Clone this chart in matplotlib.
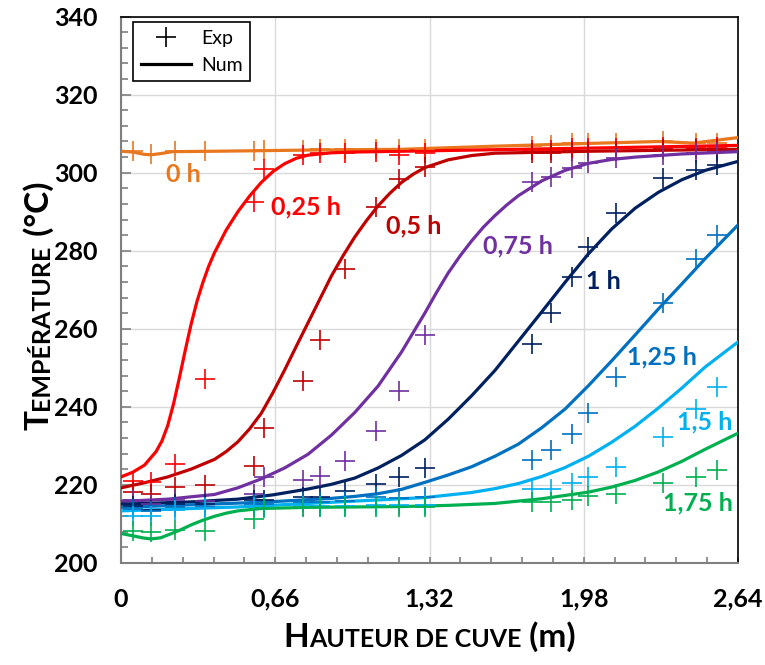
import matplotlib
matplotlib.use('Agg')
import matplotlib.pyplot as plt
from matplotlib.lines import Line2D
from matplotlib.ticker import FixedLocator, MultipleLocator

plt.rcParams['font.family'] = ['Lato', 'DejaVu Sans']

# positions of the thermocouples (m)
x_exp = [0.05, 0.13, 0.23, 0.36, 0.57, 0.61, 0.78, 0.85, 0.96, 1.09,
         1.19, 1.30, 1.76, 1.84, 1.93, 2.00, 2.12, 2.32, 2.46, 2.55]

labels = ['0 h', '0,25 h', '0,5 h', '0,75 h', '1 h', '1,25 h', '1,5 h', '1,75 h']
colors = ['#E8771E', '#FF0000', '#C00000', '#7030A0', '#002060', '#0070C0', '#00B0F0', '#00B050']

# measured temperatures (Exp)
exp_0h = [305.5, 304.8, 305.5, 305.5, 305.5, 305.7, 305.8, 306.0, 306.2, 306.2,
          306.0, 306.0, 306.8, 307.0, 307.5, 307.5, 307.5, 308.0, 307.5, 307.6]
exp_025h = [221.0, 220.8, 225.4, 247.0, 292.5, 301.0, 304.5, 305.0, 305.0, 305.3,
            304.5, 305.0, 305.8, 305.8, 306.3, 306.3, 306.3, 306.6, 306.3, 306.6]
exp_05h = [218.1, 217.6, 219.5, 219.8, 224.7, 234.5, 246.5, 257.0, 275.3, 291.3,
           298.4, 301.5, 305.0, 305.0, 305.5, 305.5, 305.5, 306.0, 306.0, 306.0]
exp_075h = [216.0, 215.0, 216.0, 215.9, 217.7, 221.9, 221.1, 222.3, 226.2, 233.7,
            244.0, 258.3, 297.7, 299.0, 301.1, 302.4, 303.7, 304.5, 305.0, 305.4]
exp_1h = [214.5, 213.4, 215.0, 215.0, 216.0, 216.2, 216.8, 216.8, 218.5, 220.2,
          221.9, 224.3, 256.2, 263.9, 273.3, 281.0, 289.6, 298.6, 300.7, 302.0]
exp_125h = [213.8, 213.2, 214.2, 214.2, 215.0, 215.0, 215.5, 215.5, 215.9, 216.9,
            216.5, 216.9, 226.4, 228.8, 233.0, 238.5, 247.6, 266.5, 278.0, 284.0]
exp_15h = [212.1, 212.1, 213.5, 214.0, 214.3, 214.3, 214.5, 214.5, 214.5, 214.8,
           214.8, 214.8, 218.9, 218.9, 220.4, 221.9, 224.5, 232.2, 239.5, 245.0]
exp_175h = [208.2, 207.8, 208.4, 208.2, 211.2, 214.0, 214.2, 214.2, 214.2, 214.3,
            214.3, 214.3, 215.5, 215.5, 216.1, 217.2, 217.6, 220.4, 221.9, 223.8]

# simulated profiles (Num)
num_0h_x = [0, 0.05, 0.1, 0.13, 0.17, 0.22, 0.4, 0.8, 1.2, 1.6, 2.0, 2.3, 2.45, 2.64]
num_0h_y = [305.5, 305.3, 304.7, 304.6, 304.9, 305.4, 305.5, 305.8, 306.0, 306.8, 307.5,
            308.0, 307.6, 309.0]
num_025h_x = [0, 0.05, 0.1, 0.15, 0.175, 0.2, 0.225, 0.25, 0.275, 0.3, 0.325, 0.35, 0.375,
              0.4, 0.45, 0.5, 0.55, 0.6, 0.65, 0.7, 0.75, 0.8, 0.9, 1.0, 1.5, 2.0, 2.64]
num_025h_y = [222.0, 223.2, 225.0, 228.5, 231.2, 235.2, 240.8, 247.5, 254.5, 261.2, 267.0,
              271.8, 276.0, 279.5, 285.3, 290.0, 294.0, 297.5, 300.3, 302.3, 303.7, 304.5,
              305.1, 305.3, 305.8, 306.3, 307.0]
num_05h_x = [0, 0.1, 0.2, 0.3, 0.4, 0.45, 0.5, 0.55, 0.6, 0.65, 0.7, 0.75, 0.8, 0.85, 0.9,
             0.95, 1.0, 1.05, 1.1, 1.15, 1.2, 1.25, 1.3, 1.4, 1.5, 1.6, 2.0, 2.64]
num_05h_y = [219.2, 220.5, 222.0, 224.0, 226.5, 228.5, 231.0, 234.3, 238.3, 243.6, 249.4,
             255.5, 261.5, 267.5, 273.5, 278.7, 283.5, 287.7, 291.5, 294.7, 297.5, 299.6,
             301.3, 303.3, 304.4, 305.0, 305.5, 306.0]
num_075h_x = [0, 0.2, 0.4, 0.5, 0.6, 0.7, 0.8, 0.9, 1.0, 1.1, 1.2, 1.25, 1.3, 1.35, 1.4,
              1.45, 1.5, 1.55, 1.6, 1.65, 1.7, 1.8, 1.9, 2.0, 2.1, 2.2, 2.4, 2.64]
num_075h_y = [215.7, 216.3, 217.5, 219.2, 221.5, 224.3, 227.8, 232.7, 238.5, 245.3, 254.0,
              259.0, 264.0, 269.3, 274.3, 278.6, 282.5, 286.0, 289.0, 291.7, 294.1, 297.9,
              300.6, 302.4, 303.4, 304.0, 304.8, 305.4]
num_1h_x = [0, 0.3, 0.5, 0.65, 0.8, 0.9, 1.0, 1.1, 1.2, 1.3, 1.4, 1.5, 1.6, 1.7, 1.8, 1.9,
            2.0, 2.1, 2.2, 2.3, 2.4, 2.5, 2.64]
num_1h_y = [215.0, 215.6, 216.3, 217.4, 218.9, 220.1, 221.7, 224.3, 227.5, 231.5, 236.8,
            242.8, 249.3, 256.8, 264.3, 271.9, 279.2, 285.6, 290.9, 295.0, 298.2, 300.6, 302.9]
num_125h_x = [0, 0.6, 0.9, 1.0, 1.1, 1.2, 1.3, 1.4, 1.5, 1.6, 1.7, 1.8, 1.9, 2.0, 2.1, 2.2,
              2.3, 2.4, 2.5, 2.64]
num_125h_y = [214.2, 215.5, 216.5, 217.0, 217.7, 218.8, 220.6, 222.5, 224.6, 227.3, 230.4,
              234.6, 239.4, 245.4, 251.8, 258.4, 265.1, 271.5, 278.0, 286.6]
num_15h_x = [0, 0.5, 0.9, 1.3, 1.5, 1.6, 1.7, 1.8, 1.9, 2.0, 2.1, 2.2, 2.3, 2.4, 2.5, 2.64]
num_15h_y = [213.3, 214.3, 215.5, 216.7, 218.0, 219.0, 220.3, 222.1, 224.4, 227.3, 230.9,
             235.0, 239.7, 244.8, 250.2, 256.6]
num_175h_x = [0, 0.05, 0.1, 0.13, 0.17, 0.2, 0.25, 0.3, 0.35, 0.4, 0.45, 0.5, 0.6, 0.8, 1.2,
              1.4, 1.6, 1.8, 2.0, 2.1, 2.2, 2.3, 2.4, 2.5, 2.64]
num_175h_y = [207.5, 206.9, 206.3, 206.1, 206.4, 207.1, 208.3, 209.7, 210.9, 211.9, 212.7,
              213.3, 213.9, 214.2, 214.4, 214.7, 215.2, 216.4, 218.1, 219.4, 221.1, 223.3,
              226.0, 229.1, 233.2]

# label positions (x in m, T in °C)
label_x = [0.265, 0.79, 1.254, 1.699, 2.063, 2.315, 2.499, 2.469]
label_y = [299.5, 291.2, 286.3, 281.2, 272.2, 252.8, 236.0, 215.3]

xtick_pos = [0, 0.66, 1.32, 1.98, 2.64]
xtick_lab = ['0', '0,66', '1,32', '1,98', '2,64']

exps = [exp_0h, exp_025h, exp_05h, exp_075h, exp_1h, exp_125h, exp_15h, exp_175h]
nums = [(num_0h_x, num_0h_y), (num_025h_x, num_025h_y), (num_05h_x, num_05h_y),
        (num_075h_x, num_075h_y), (num_1h_x, num_1h_y), (num_125h_x, num_125h_y),
        (num_15h_x, num_15h_y), (num_175h_x, num_175h_y)]

fig = plt.figure(figsize=(7.65, 6.65), dpi=100)
ax = fig.add_axes([0.1582, 0.1538, 0.8065, 0.8211])

for i in range(len(labels)):
    nx, ny = nums[i]
    ax.plot(nx, ny, color=colors[i], lw=2.3, solid_joinstyle='round', zorder=3)
    ax.plot(x_exp, exps[i], ls='none', marker='+', ms=14, mew=1.2, color=colors[i], zorder=4)
    ax.text(label_x[i], label_y[i], labels[i], color=colors[i], fontsize=18,
            fontweight='bold', ha='center', va='center', zorder=5)

ax.set_xlim(0, 2.64)
ax.set_ylim(200, 340)
ax.xaxis.set_major_locator(FixedLocator(xtick_pos))
ax.set_xticklabels(xtick_lab)
ax.xaxis.set_minor_locator(MultipleLocator(0.132))
ax.yaxis.set_major_locator(MultipleLocator(20))
ax.yaxis.set_minor_locator(MultipleLocator(4))
ax.grid(True, which='major', color='#d9d9d9', lw=1, zorder=0)
ax.set_axisbelow(True)

ax.tick_params(axis='both', which='both', direction='in', color='#7f7f7f', width=1.2)
ax.tick_params(axis='y', which='major', length=7.5, pad=17, labelsize=18)
ax.tick_params(axis='y', which='minor', length=5)
ax.tick_params(axis='x', which='both', length=4.5)
ax.tick_params(axis='x', which='major', pad=18, labelsize=18)
for lab in ax.get_xticklabels() + ax.get_yticklabels():
    lab.set_fontweight('bold')

for s in ['left', 'bottom']:
    ax.spines[s].set_color('#7f7f7f')
    ax.spines[s].set_linewidth(1.5)
for s in ['top', 'right']:
    ax.spines[s].set_color('black')
    ax.spines[s].set_linewidth(1.2)

handles = [Line2D([], [], color='black', marker='+', ls='none', ms=14, mew=1.2),
           Line2D([], [], color='black', lw=2.3)]
leg = ax.legend(handles, ['Exp', 'Num'], loc='upper left', bbox_to_anchor=(0.019, 0.99),
                borderaxespad=0, fontsize=14, fancybox=False, framealpha=1,
                edgecolor='black', handlelength=2.6, borderpad=0.4, labelspacing=0.5,
                handletextpad=0.5)
leg.get_frame().set_linewidth(1.2)


def caps_label(parts, x, y, vertical=False):
    # fake small capitals: big first letters, smaller rest
    texts = [fig.text(0, 0, s, fontsize=size, fontweight='bold', ha='left', va='baseline',
                      rotation=90 if vertical else 0, rotation_mode='anchor') for s, size in parts]
    r = fig.canvas.get_renderer()
    W, H = fig.bbox.width, fig.bbox.height
    lens = []
    for t in texts:
        bb = t.get_window_extent(r)
        lens.append(bb.height if vertical else bb.width)
    start = (y * H if vertical else x * W) - sum(lens) / 2
    for t, L in zip(texts, lens):
        if vertical:
            t.set_position((x, start / H))
        else:
            t.set_position((start / W, y))
        start += L


caps_label([('H', 24), ('AUTEUR DE CUVE', 18), (' (m)', 24)], 0.5615, 0.027)
caps_label([('T', 24), ('EMPÉRATURE', 18), (' (°C)', 24)], 0.064, 0.54, vertical=True)

fig.savefig('out.png', dpi=100)
